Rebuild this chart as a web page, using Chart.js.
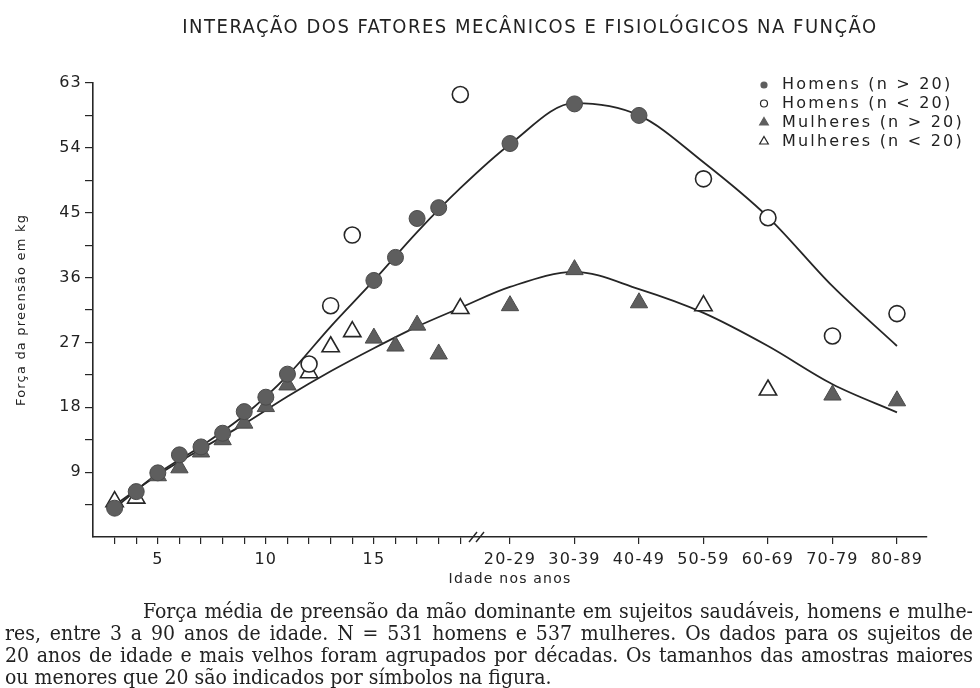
<!DOCTYPE html>
<html><head><meta charset="utf-8">
<script src="https://cdn.jsdelivr.net/npm/chart.js@4.4.0/dist/chart.umd.min.js"></script>
<style>
html,body{margin:0;padding:0;background:#fff;}
#wrap{position:relative;width:980px;height:688px;overflow:hidden;background:#fff;}
#cvbox{position:absolute;left:0;top:0;width:980px;height:600px;}
#cap{position:absolute;left:5px;top:600px;width:968px;font-family:"DejaVu Serif Condensed","DejaVu Serif",serif;font-stretch:condensed;font-size:21px;line-height:22px;color:#222;}
#cap div{text-align:justify;text-align-last:justify;white-space:nowrap;}
#cap div.first{text-indent:138px;}
#cap div.last{text-align-last:left;}
</style>
</head><body>
<div id="wrap">
  <div id="cvbox"><canvas id="cv"></canvas></div>
  <div id="cap">
    <div class="first">Força média de preensão da mão dominante em sujeitos saudáveis, homens e mulhe-</div>
    <div>res, entre 3 a 90 anos de idade. N = 531 homens e 537 mulheres. Os dados para os sujeitos de</div>
    <div>20 anos de idade e mais velhos foram agrupados por décadas. Os tamanhos das amostras maiores</div>
    <div class="last">ou menores que 20 são indicados por símbolos na figura.</div>
  </div>
</div>
<script>
// ---- data ----
const chartTitle = 'INTERAÇÃO DOS FATORES MECÂNICOS E FISIOLÓGICOS NA FUNÇÃO';
const xTitle = 'Idade nos anos';
const yTitle = 'Força da preensão em kg';
const ageYears = [3,4,5,6,7,8,9,10,11,12,13,14,15,16,17,18,19];
const ageLabelled = [5,10,15];
const decadeLabels = ['20-29','30-39','40-49','50-59','60-69','70-79','80-89'];
const yTicks = [9,18,27,36,45,54,63];

const menBigAge   = [3,4,5,6,7,8,9,10,11,15,16,17,18,'20-29','30-39','40-49'];
const menBigForce = [4.0,6.3,8.9,11.4,12.5,14.4,17.4,19.4,22.6,35.6,38.8,44.2,45.7,54.6,60.1,58.5];

const menSmallAge   = [12,13,14,19,'50-59','60-69','70-79','80-89'];
const menSmallForce = [24.0,32.1,41.9,61.4,49.7,44.3,27.9,31.0];

const womenBigAge   = [5,6,7,8,9,10,11,15,16,17,18,'20-29','30-39','40-49','70-79','80-89'];
const womenBigForce = [8.5,9.6,11.8,13.5,15.8,18.1,21.1,27.6,26.5,29.4,25.4,32.1,37.1,32.5,19.7,18.9];

const womenSmallAge   = [3,4,12,13,14,19,'50-59','60-69'];
const womenSmallForce = [4.9,5.4,22.8,26.4,28.5,31.7,32.1,20.4];

const curveAge   = [3,5,7,9,11,13,15,17,19,'20-29','30-39','40-49','50-59','60-69','70-79','80-89'];
const menCurve   = [4.0,8.8,12.6,16.9,22.4,29.2,35.6,42.3,48.4,54.5,60.2,58.5,52.0,44.4,34.8,26.5];
const womenCurve = [4.4,8.6,12.2,15.7,19.5,23.0,26.2,29.2,31.8,34.7,36.8,34.4,31.1,26.5,21.2,17.3];

const seriesLabels = ['Homens (n > 20)','Homens (n < 20)','Mulheres (n > 20)','Mulheres (n < 20)'];

// ---- axis mapping (broken axis: decades after the break) ----
const DECADE_START = 21.3, DECADE_STEP = 2.985, BREAK_AT = 19.75;
function ageToX(a){ return typeof a === 'number' ? a : DECADE_START + DECADE_STEP*decadeLabels.indexOf(a); }
function pts(ages, vals){ return ages.map((a,i)=>({x:ageToX(a), y:vals[i]})); }

const INK = '#262626', FILL = '#5e5e5e';
const SANS = '"DejaVu Sans", sans-serif';

const bigCircle = {pointStyle:'circle', pointRadius:8, pointBackgroundColor:FILL, pointBorderColor:'#4a4a4a', pointBorderWidth:1};
const smallCircle = {pointStyle:'circle', pointRadius:8, pointBackgroundColor:'#fff', pointBorderColor:INK, pointBorderWidth:1.6};
const bigTri = {pointStyle:'triangle', pointRadius:10, pointBackgroundColor:FILL, pointBorderColor:'#4a4a4a', pointBorderWidth:1};
const smallTri = {pointStyle:'triangle', pointRadius:10, pointBackgroundColor:'#fff', pointBorderColor:INK, pointBorderWidth:1.6};

const decorPlugin = {
  id:'decor',
  afterDraw(chart){
    const ctx = chart.ctx, xs = chart.scales.x, ys = chart.scales.y;
    ctx.save();
    // title
    ctx.fillStyle = '#222';
    try { ctx.letterSpacing = '1.5px'; } catch(e){}
    ctx.font = '20px "Liberation Sans Narrow","DejaVu Sans Condensed",sans-serif';
    ctx.textAlign = 'center'; ctx.textBaseline = 'middle';
    ctx.fillText(chartTitle, 530, 28);
    // break mark
    const bx = xs.getPixelForValue(BREAK_AT), by = ys.getPixelForValue(0);
    ctx.strokeStyle = INK; ctx.lineWidth = 1.4;
    [-3.5, 3.5].forEach(d=>{
      ctx.beginPath(); ctx.moveTo(bx+d-4, by+5); ctx.lineTo(bx+d+4, by-5); ctx.stroke();
    });
    // legend
    const rows = [85, 103.5, 122.5, 141.5];
    const styles = [
      {s:'circle', r:3, fill:FILL, stroke:FILL},
      {s:'circle', r:3.5, fill:'#fff', stroke:INK},
      {s:'triangle', r:5, fill:FILL, stroke:FILL},
      {s:'triangle', r:5, fill:'#fff', stroke:INK}
    ];
    ctx.font = '16px ' + SANS;
    ctx.textAlign = 'left'; ctx.textBaseline = 'middle';
    try { ctx.letterSpacing = '2.2px'; } catch(e){}
    seriesLabels.forEach((lab,i)=>{
      const st = styles[i];
      ctx.fillStyle = st.fill; ctx.strokeStyle = st.stroke; ctx.lineWidth = 1.2;
      Chart.helpers.drawPoint(ctx, {pointStyle:st.s, radius:st.r, borderWidth:1.2}, 764, rows[i]);
      ctx.fillStyle = '#222';
      ctx.fillText(lab, 782, rows[i]);
    });
    ctx.restore();
  }
};

const spacingPlugin = {
  id:'spacing',
  beforeDraw(chart){ try { chart.ctx.letterSpacing = '1.2px'; } catch(e){} },
  afterDraw(chart){ try { chart.ctx.letterSpacing = '0px'; } catch(e){} }
};

new Chart(document.getElementById('cv'), {
  type:'scatter',
  data:{
    datasets:[
      {label:'curveM', data:pts(curveAge, menCurve), showLine:true, borderColor:INK, borderWidth:1.8, pointRadius:0, cubicInterpolationMode:'monotone', order:5},
      {label:'curveW', data:pts(curveAge, womenCurve), showLine:true, borderColor:INK, borderWidth:1.8, pointRadius:0, cubicInterpolationMode:'monotone', order:5},
      Object.assign({label:seriesLabels[0], data:pts(menBigAge, menBigForce), order:1}, bigCircle),
      Object.assign({label:seriesLabels[1], data:pts(menSmallAge, menSmallForce), order:1}, smallCircle),
      Object.assign({label:seriesLabels[2], data:pts(womenBigAge, womenBigForce), order:2}, bigTri),
      Object.assign({label:seriesLabels[3], data:pts(womenSmallAge, womenSmallForce), order:2}, smallTri)
    ]
  },
  options:{
    responsive:true, maintainAspectRatio:false, animation:false,
    layout:{padding:{top:83, right:53, left:0, bottom:0}},
    plugins:{legend:{display:false}, tooltip:{enabled:false}, title:{display:false}},
    scales:{
      x:{
        type:'linear', min:2, max:40.6,
        afterBuildTicks(s){ s.ticks = ageYears.concat(decadeLabels.map(ageToX)).map(v=>({value:v})); },
        afterFit(s){ s.height = 63; },
        ticks:{
          autoSkip:false, maxRotation:0, minRotation:0, padding:6, color:'#222',
          font:{family:SANS, size:16},
          callback(v){
            if (ageLabelled.includes(v)) return String(v);
            const k = decadeLabels.findIndex(d=>Math.abs(ageToX(d)-v)<1e-6);
            return k>=0 ? decadeLabels[k] : '';
          }
        },
        grid:{drawOnChartArea:false, drawTicks:true, tickLength:7, color:INK, lineWidth:1.2},
        border:{display:true, color:INK, width:1.6},
        title:{display:true, text:xTitle, color:'#222', font:{family:SANS, size:14}, padding:{top:2, bottom:12}}
      },
      y:{
        min:0, max:63,
        afterBuildTicks(s){
          const t = [];
          yTicks.forEach(v=>{ t.push({value:v-4.5}); t.push({value:v}); });
          s.ticks = t;
        },
        afterFit(s){ s.width = 93; },
        ticks:{
          autoSkip:false, padding:3, color:'#222', font:{family:SANS, size:16},
          callback(v){ return yTicks.includes(v) ? String(v) : ''; }
        },
        grid:{drawOnChartArea:false, drawTicks:true, tickLength:8, color:INK, lineWidth:1.2},
        border:{display:true, color:INK, width:1.6},
        title:{display:true, text:yTitle, color:'#222', font:{family:SANS, size:13}, padding:{top:14, bottom:0}}
      }
    }
  },
  plugins:[spacingPlugin, decorPlugin]
});
</script>
</body></html>
